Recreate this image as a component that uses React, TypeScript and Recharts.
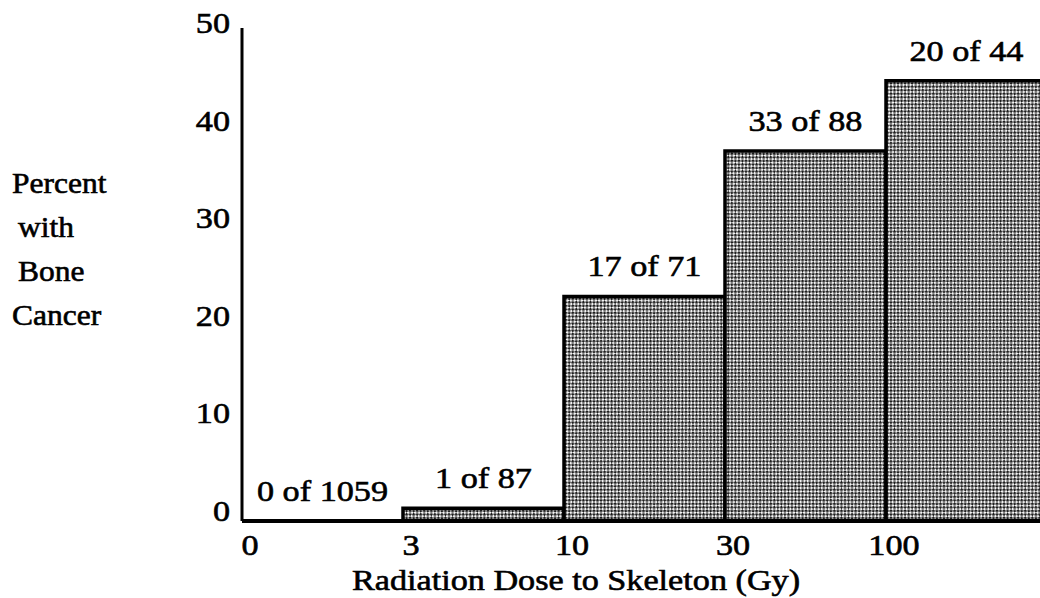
import React from 'react';
import { ComposedChart, Bar, Line, XAxis, YAxis, LabelList } from 'recharts';

const categories = ['0-3', '3-10', '10-30', '30-100', '100+'];
const boundaryLabels = ['0', '3', '10', '30', '100'];
const percentValues = [0, 1.3, 23.0, 37.9, 45.1];
const countLabels = ['0 of 1059', '1 of 87', '17 of 71', '33 of 88', '20 of 44'];
const yTicks = [0, 10, 20, 30, 40, 50];
const yLabelLines = ['Percent', 'with', 'Bone', 'Cancer'];
const yLabelIndent = [0, 6, 6, 0];
const xTitle = 'Radiation Dose to Skeleton (Gy)';

const data = categories.map((c, i) => ({
  bin: c,
  pct: percentValues[i],
  count: countLabels[i],
}));

const CHART_W = 1060;
const CHART_H = 598;
const MARGIN = { top: 28, right: 13, left: 182, bottom: 47 };
const Y_AXIS_W = 60;
const X_AXIS_H = 30;
const PLOT_W = CHART_W - MARGIN.left - MARGIN.right - Y_AXIS_W;
const BAND = PLOT_W / categories.length;
const SX = 1.14;

const FONT = "Liberation Serif, Times New Roman, serif";
const textStyle = {
  fontFamily: FONT,
  fontSize: 30,
  fill: '#000',
  stroke: '#000',
  strokeWidth: 0.6,
};

const XTick = (props: any) => {
  const { x, y, payload } = props;
  const idx = payload?.index ?? props.index ?? 0;
  return (
    <text
      transform={`translate(${x - BAND / 2 + 8},${y + 34}) scale(${SX},1)`}
      textAnchor="middle"
      style={textStyle}
    >
      {boundaryLabels[idx]}
    </text>
  );
};

const YTick = (props: any) => {
  const { x, y, payload } = props;
  return (
    <text
      transform={`translate(${x - 12},${y}) scale(${SX},1)`}
      textAnchor="end"
      style={textStyle}
    >
      {payload.value}
    </text>
  );
};

const CountLabel = (props: any) => {
  const { x, y, value } = props;
  return (
    <text
      transform={`translate(${Number(x)},${Number(y) - 20}) scale(${SX},1)`}
      textAnchor="middle"
      style={textStyle}
    >
      {value}
    </text>
  );
};

const YTitle = () => (
  <g>
    {yLabelLines.map((line, i) => (
      <text
        key={line}
        transform={`translate(${12 + yLabelIndent[i]},${193 + i * 44}) scale(1.05,1)`}
        textAnchor="start"
        style={textStyle}
      >
        {line}
      </text>
    ))}
  </g>
);

const XTitle = (props: any) => {
  const { viewBox } = props;
  const y = viewBox.y;
  return (
    <text
      transform={`translate(576,${y + 69}) scale(${SX},1)`}
      textAnchor="middle"
      style={textStyle}
    >
      {xTitle}
    </text>
  );
};

export default function App() {
  return (
    <div
      style={{
        position: 'fixed',
        left: 0,
        top: 0,
        width: 1040,
        height: 598,
        overflow: 'hidden',
        background: '#fff',
      }}
    >
      <ComposedChart
        width={CHART_W}
        height={CHART_H}
        data={data}
        margin={MARGIN}
        barCategoryGap={0}
        barGap={0}
      >
        <defs>
          <pattern
            id="halftone"
            width="5"
            height="5"
            patternUnits="userSpaceOnUse"
            patternTransform="rotate(45)"
          >
            <rect x="0" y="0" width="5" height="5" fill="#f4f4f4" />
            <rect x="0" y="0" width="2.6" height="2.6" fill="#1e1e1e" />
            <rect x="2.5" y="2.5" width="2.6" height="2.6" fill="#1e1e1e" />
          </pattern>
        </defs>
        <XAxis
          dataKey="bin"
          type="category"
          height={X_AXIS_H}
          axisLine={{ stroke: '#000', strokeWidth: 4 }}
          tickLine={false}
          tickSize={0}
          tickMargin={0}
          interval={0}
          tick={<XTick />}
          label={<XTitle />}
        />
        <YAxis
          type="number"
          width={Y_AXIS_W}
          domain={[0, 50.5]}
          ticks={yTicks}
          allowDataOverflow
          axisLine={{ stroke: '#000', strokeWidth: 3 }}
          tickLine={false}
          tickSize={0}
          tickMargin={0}
          tick={<YTick />}
          label={<YTitle />}
        />
        <Bar
          dataKey="pct"
          fill="url(#halftone)"
          stroke="#000"
          strokeWidth={3.5}
          isAnimationActive={false}
        />
        <Line
          dataKey="pct"
          stroke="none"
          dot={false}
          activeDot={false}
          isAnimationActive={false}
        >
          <LabelList dataKey="count" content={<CountLabel />} />
        </Line>
      </ComposedChart>
    </div>
  );
}
